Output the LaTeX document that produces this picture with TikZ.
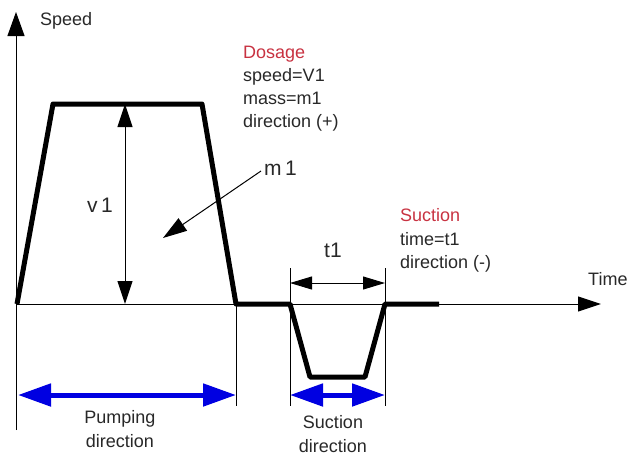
\documentclass[tikz,border=0pt]{standalone}
\usepackage{fontspec}
\setmainfont{Liberation Sans}
\usetikzlibrary{arrows.meta}
\definecolor{txt}{RGB}{40,40,40}
\definecolor{redtxt}{RGB}{200,50,65}
\definecolor{bluearr}{RGB}{0,0,225}
\tikzset{
  lbl/.style={anchor=base west, inner sep=0pt, text=txt, font=\fontsize{18}{21}\selectfont},
  lblc/.style={anchor=base, inner sep=0pt, text=txt, font=\fontsize{18}{21}\selectfont},
  big/.style={anchor=base west, inner sep=0pt, text=txt, font=\fontsize{21}{24}\selectfont},
  thin/.style={line width=1pt, black},
  profile/.style={line width=5pt, black, line join=round},
  bluedim/.style={line width=5pt, bluearr, {Triangle[length=33pt,width=22pt]}-{Triangle[length=33pt,width=22pt]}},
  dimarr/.style={thin, {Triangle[length=23pt,width=15pt]}-{Triangle[length=23pt,width=15pt]}}
}
\begin{document}
\begin{tikzpicture}[x=1pt,y=-1pt]
\useasboundingbox (0,0) rectangle (630,459);
% axes
\coordinate (Ytop) at (16,12);
\coordinate (Ybot) at (16,430);
\coordinate (O) at (16,304);
\coordinate (Xend) at (601,304);
\draw[thin, -{Triangle[length=24pt,width=17pt]}] (Ybot) -- (Ytop);
\draw[thin, -{Triangle[length=23pt,width=15pt]}] (O) -- (Xend);
% profile corners
\coordinate (p0) at (17,304);
\coordinate (p1) at (53,104);
\coordinate (p2) at (202,104);
\coordinate (p3) at (236,304);
\coordinate (p4) at (290,304);
\coordinate (p5) at (310,377);
\coordinate (p6) at (365,377);
\coordinate (p7) at (385,304);
\coordinate (p8) at (439,304);
% extension lines
\coordinate (e3) at (236,406);
\coordinate (e4t) at (290,268);
\coordinate (e4b) at (290,406);
\coordinate (e7t) at (385,268);
\coordinate (e7b) at (385,406);
\draw[thin] (p3) -- (e3);
\draw[thin] (e4t) -- (e4b);
\draw[thin] (e7t) -- (e7b);
% speed profile
\draw[profile] (p0) -- (p1) -- (p2) -- (p3) -- (p4) -- (p5) -- (p6) -- (p7) -- (p8);
% v1 dimension
\coordinate (v1b) at (125,304);
\coordinate (v1t) at (125,104);
\draw[dimarr] (v1b) -- (v1t);
% t1 dimension
\coordinate (t1l) at (290,283);
\coordinate (t1r) at (385,283);
\draw[thin, {Triangle[length=22pt,width=13pt]}-{Triangle[length=22pt,width=13pt]}] (t1l) -- (t1r);
% m1 arrow
\coordinate (m1s) at (261,171);
\coordinate (m1e) at (163,238);
\draw[thin, -{Triangle[length=24pt,width=15pt]}] (m1s) -- (m1e);
% blue direction arrows
\coordinate (pl) at (18,395);
\coordinate (pr) at (236,395);
\coordinate (sl) at (290,395);
\coordinate (sr) at (385,395);
\draw[bluedim] (pl) -- (pr);
\draw[bluedim] (sl) -- (sr);
% labels
\node[lbl] (speed) at (40,25) {Speed};
\node[lbl] (time) at (588,285) {Time};
\node[big] (v1) at (87,212) {v\,1};
\node[big] (m1) at (264,175) {m\,1};
\node[big] (t1) at (324,257) {t1};
\node[lbl, text=redtxt] (dos) at (243,58) {Dosage};
\node[lbl] (dos1) at (243,81) {speed=V1};
\node[lbl] (dos2) at (243,104) {mass=m1};
\node[lbl] (dos3) at (243,127) {direction (+)};
\node[lbl, text=redtxt] (suc) at (400,221) {Suction};
\node[lbl] (suc1) at (400,245) {time=t1};
\node[lbl] (suc2) at (400,268) {direction (-)};
\node[lblc] (pump1) at (120,423) {Pumping};
\node[lblc] (pump2) at (120,447) {direction};
\node[lblc] (sd1) at (333,428) {Suction};
\node[lblc] (sd2) at (333,452) {direction};
\end{tikzpicture}
\end{document}
